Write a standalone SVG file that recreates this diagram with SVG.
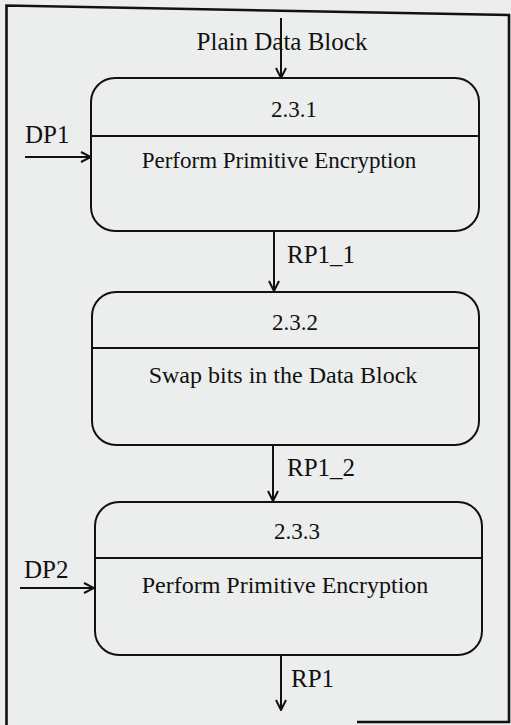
<svg xmlns="http://www.w3.org/2000/svg" width="511" height="725" viewBox="0 0 511 725">
  <defs>
    <marker id="arrow" viewBox="0 0 12 12" refX="11" refY="6" markerWidth="12" markerHeight="12" markerUnits="userSpaceOnUse" orient="auto">
      <path d="M1 1 L11 6 L1 11" fill="none" stroke="#111" stroke-width="2"/>
    </marker>
  </defs>
  <style>
    .bg { fill: #eceeed; }
    .frame { fill: none; stroke: #111; stroke-width: 2.6; }
    .proc { fill: none; stroke: #111; stroke-width: 2; }
    .div { stroke: #111; stroke-width: 2; }
    .flow { fill: none; stroke: #111; stroke-width: 2; marker-end: url(#arrow); }
    .id { font-size: 23px; text-anchor: middle; }
    .name { font-size: 23px; text-anchor: middle; }
    .name2 { font-size: 24px; text-anchor: middle; }
    .lbl { font-size: 25px; }
  </style>

  <rect class="bg" x="0" y="0" width="511" height="725"/>
  <!-- outer frame -->
  <path class="frame" d="M6.5 725 L6.5 5.5 L509 15 L509 722 L357 722"/>

  <!-- connectors -->
  <g id="connectors">
    <line class="flow" x1="281" y1="18" x2="281" y2="78"/>
    <line class="flow" x1="25" y1="157" x2="91" y2="157"/>
    <line class="flow" x1="274" y1="231" x2="274" y2="291"/>
    <line class="flow" x1="273" y1="445" x2="273" y2="501"/>
    <line class="flow" x1="20" y1="588" x2="94" y2="588"/>
    <line class="flow" x1="281" y1="655" x2="281" y2="710"/>
  </g>

  <g font-family="'Liberation Serif', Tinos, 'Times New Roman', 'DejaVu Serif', serif" fill="#111">
    <!-- flow labels -->
    <g id="labels">
      <text class="lbl" x="282" y="50" text-anchor="middle" font-size="26">Plain Data Block</text>
      <text class="lbl" x="25" y="143">DP1</text>
      <text class="lbl" x="287" y="263">RP1_1</text>
      <text class="lbl" x="287" y="476">RP1_2</text>
      <text class="lbl" x="24" y="578">DP2</text>
      <text class="lbl" x="291" y="687">RP1</text>
    </g>

    <g id="p231">
      <rect class="proc" x="91" y="78" width="388" height="153" rx="24" ry="24"/>
      <line class="div" x1="91" y1="136" x2="479" y2="136"/>
      <text class="id" x="294" y="117">2.3.1</text>
      <text class="name" x="279" y="168">Perform Primitive Encryption</text>
    </g>

    <g id="p232">
      <rect class="proc" x="92" y="292" width="387" height="153" rx="24" ry="24"/>
      <line class="div" x1="92" y1="348" x2="479" y2="348"/>
      <text class="id" x="295" y="330">2.3.2</text>
      <text class="name2" x="283" y="383">Swap bits in the Data Block</text>
    </g>

    <g id="p233">
      <rect class="proc" x="95" y="502" width="387" height="153" rx="24" ry="24"/>
      <line class="div" x1="95" y1="558" x2="482" y2="558"/>
      <text class="id" x="297" y="539">2.3.3</text>
      <text class="name2" x="285" y="593">Perform Primitive Encryption</text>
    </g>
  </g>
</svg>
